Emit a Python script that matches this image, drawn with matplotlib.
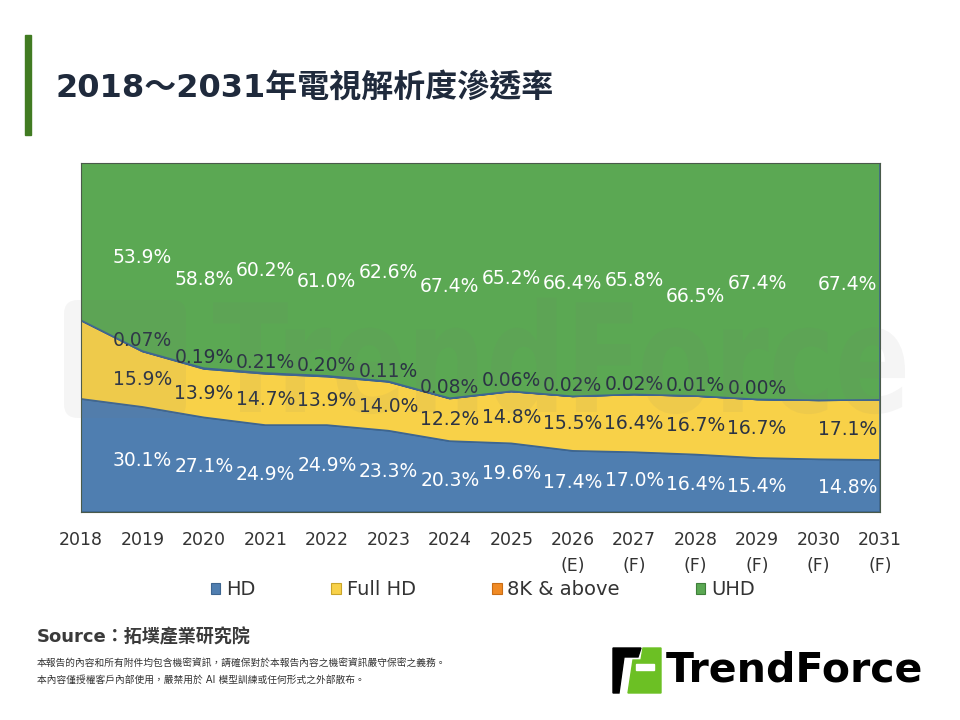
import numpy as np
import matplotlib.pyplot as plt
from matplotlib.patches import Patch, Polygon, Rectangle, PathPatch, FancyBboxPatch
from matplotlib.textpath import TextPath
from matplotlib.font_manager import FontProperties
from matplotlib.transforms import Affine2D

plt.rcParams['font.family'] = ['DejaVu Sans', 'Noto Sans CJK TC']

# dane (%)
years = ['2018', '2019', '2020', '2021', '2022', '2023', '2024', '2025',
         '2026\n(E)', '2027\n(F)', '2028\n(F)', '2029\n(F)', '2030\n(F)', '2031\n(F)']
hd = [32.4, 30.1, 27.1, 24.9, 24.9, 23.3, 20.3, 19.6, 17.4, 17.0, 16.4, 15.4, 15.1, 14.8]
fhd = [22.5, 15.9, 13.9, 14.7, 13.9, 14.0, 12.2, 14.8, 15.5, 16.4, 16.7, 16.7, 16.9, 17.1]
k8 = [0.00, 0.07, 0.19, 0.21, 0.20, 0.11, 0.08, 0.06, 0.02, 0.02, 0.01, 0.00, 0.00, 0.00]
uhd = [45.1, 53.9, 58.8, 60.2, 61.0, 62.6, 67.4, 65.2, 66.4, 65.8, 66.5, 67.4, 68.0, 67.4]
series_names = ['HD', 'Full HD', '8K & above', 'UHD']

# które punkty mają etykiety
labeled = [1, 2, 3, 4, 5, 6, 7, 8, 9, 10, 11, 13]
# drobne przesunięcia etykiet (pt), jak w oryginale
uhd_dy = [0, -10, -1.5, -9, 0, -4, -1, -3, -1.5, -12, -1.5, -2]
hd_dy = [-1, -1, -4.5, 2.5, 0, -3, 2.7, -1, 1, -1, -1, -1]

colors = ['#4f7eb0', '#f8d148', '#f08a24', '#5ba853']
edges = ['#3d6590', '#c9a52a', '#c96d15', '#3f7f3a']
dark = '#2b3344'
lab_fs = 13.5

data = np.array([hd, fhd, k8, uhd], dtype=float)
share = data / data.sum(axis=0)
x = np.arange(len(years))

fig = plt.figure(figsize=(9.6, 7.2), dpi=100)
ax = fig.add_axes([0.0844, 0.2889, 0.8323, 0.4847])

ax.stackplot(x, share, colors=colors, edgecolor=edges, linewidth=1.2, zorder=2)
ax.set_xlim(0, len(years) - 1)
ax.set_ylim(0, 1)
ax.set_yticks([])
ax.set_xticks(x)
ax.set_xticklabels(years, fontsize=12.5, color='#333333', linespacing=1.55)
ax.tick_params(axis='x', length=0, pad=14)
for s in ax.spines.values():
    s.set_color('#4a5a4a')
    s.set_linewidth(0.8)

# znak wodny (logo w tle, w pikselach)
tp = TextPath((0, 0), 'TrendForce', size=100,
              prop=FontProperties(family='DejaVu Sans', weight='bold'))
bb = tp.get_extents()
sx = (905 - 213) / bb.width
sy = (415 - 305) / 73.0
wm = Affine2D().translate(-bb.x0, 0).scale(sx, sy).translate(213, 720 - 412)
fig.patches.append(PathPatch(tp, transform=wm, facecolor='#7a7a7a', edgecolor='none',
                             alpha=0.075, zorder=3))
fig.patches.append(FancyBboxPatch((64, 720 - 418), 122, 118, boxstyle='round,pad=0,rounding_size=14',
                                  transform=Affine2D(), facecolor='#7a7a7a',
                                  edgecolor='none', alpha=0.075, zorder=3))

cum = np.cumsum(share, axis=0)
for j, i in enumerate(labeled):
    ha = 'center'
    dx = 0
    if i == len(years) - 1:
        ha = 'right'
        dx = -2
    # HD
    ax.annotate(f'{hd[i]:.1f}%', (i, share[0, i] / 2), xytext=(dx, hd_dy[j]),
                textcoords='offset points', ha=ha, va='center',
                fontsize=lab_fs, color='white', zorder=5)
    # Full HD
    ax.annotate(f'{fhd[i]:.1f}%', (i, cum[0, i] + share[1, i] / 2), xytext=(dx, 0),
                textcoords='offset points', ha=ha, va='center',
                fontsize=lab_fs, color=dark, zorder=5)
    # 8K
    if i < len(years) - 1:
        ax.annotate(f'{k8[i]:.2f}%', (i, cum[2, i]), xytext=(dx, 7.5),
                    textcoords='offset points', ha=ha, va='center',
                    fontsize=lab_fs, color=dark, zorder=5)
    # UHD
    ax.annotate(f'{uhd[i]:.1f}%', (i, cum[2, i] + share[3, i] / 2), xytext=(dx, uhd_dy[j]),
                textcoords='offset points', ha=ha, va='center',
                fontsize=lab_fs, color='white', zorder=5)

handles = [Patch(facecolor=c, edgecolor=e, linewidth=0.8) for c, e in zip(colors, edges)]
fig.legend(handles, series_names, loc='center', bbox_to_anchor=(0.503, 0.181), ncol=4,
           frameon=False, fontsize=14, handlelength=0.5, handleheight=0.5,
           handletextpad=0.3, columnspacing=3.9, labelcolor='#333333')

# tytuł i pasek
fig.patches.append(Rectangle((25 / 960, 1 - 135 / 720), 6 / 960, 100 / 720,
                             transform=fig.transFigure, color='#417b22'))
fig.text(55 / 960, 1 - 88 / 720, '2018～2031年電視解析度滲透率', fontsize=23,
         fontweight='bold', color='#1f2a3c', va='center', ha='left')

fig.text(37 / 960, 1 - 637 / 720, 'Source：拓墣產業研究院', fontsize=13,
         fontweight='bold', color='#3a3a3a', va='center', ha='left')
fig.text(37 / 960, 1 - 663 / 720,
         '本報告的內容和所有附件均包含機密資訊，請確保對於本報告內容之機密資訊嚴守保密之義務。',
         fontsize=7, color='#333333', va='center', ha='left')
fig.text(37 / 960, 1 - 680 / 720,
         '本內容僅授權客戶內部使用，嚴禁用於 AI 模型訓練或任何形式之外部散布。',
         fontsize=7, color='#333333', va='center', ha='left')

# logo TrendForce
def px(pts):
    return [(a / 960, 1 - b / 720) for a, b in pts]

fig.patches.append(Polygon(px([(613, 648), (641, 648), (638, 657), (624, 657),
                               (619, 693), (613, 693)]),
                           closed=True, transform=fig.transFigure, color='black'))
fig.patches.append(Polygon(px([(643, 648), (661, 648), (661, 693), (628, 693),
                               (633, 660), (641, 660)]),
                           closed=True, transform=fig.transFigure, color='#6cc024'))
fig.patches.append(Rectangle((636 / 960, 1 - 670 / 720), 18 / 960, 6 / 720,
                             transform=fig.transFigure, color='white'))
fig.text(666 / 960, 1 - 671 / 720, 'TrendForce', fontsize=29.5, fontweight='bold',
         color='black', va='center', ha='left')

fig.savefig('out.png', dpi=100)
